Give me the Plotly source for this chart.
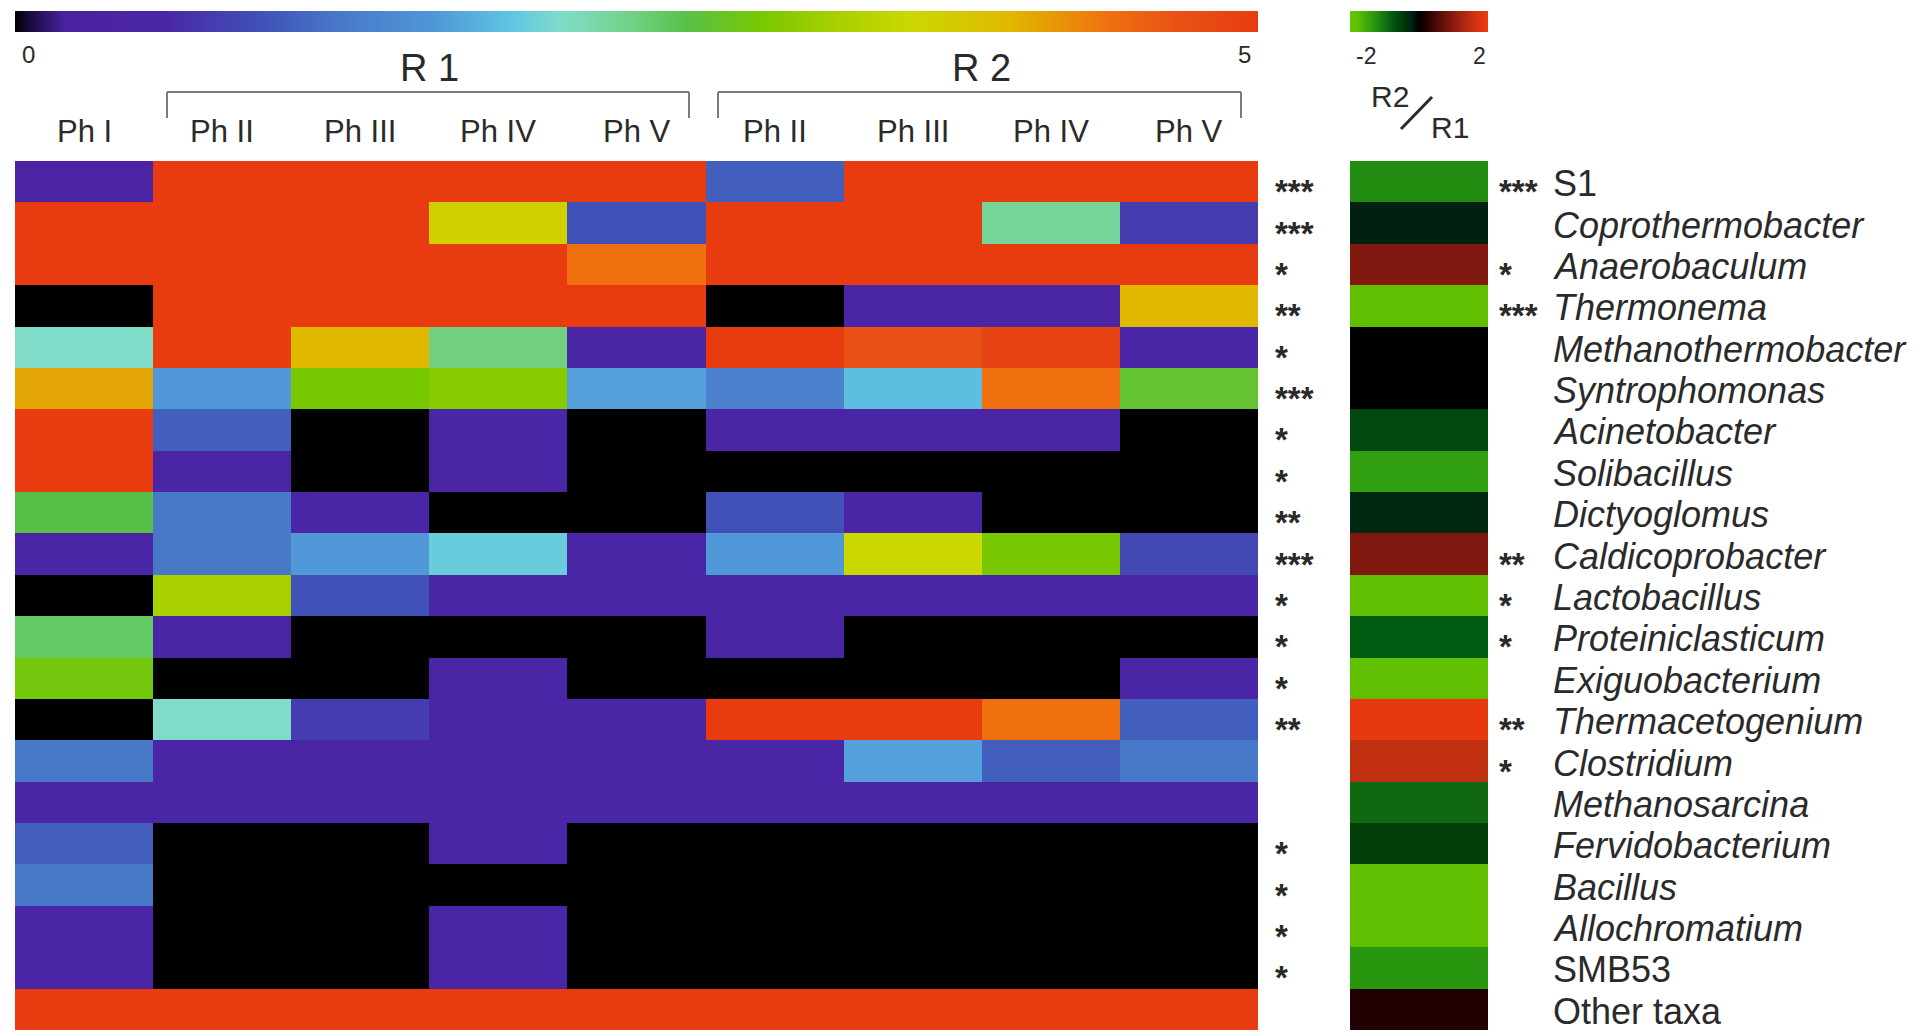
import plotly.graph_objects as go

W, H = 1927, 1032

taxa = ["S1", "Coprothermobacter", "Anaerobaculum", "Thermonema", "Methanothermobacter",
        "Syntrophomonas", "Acinetobacter", "Solibacillus", "Dictyoglomus", "Caldicoprobacter",
        "Lactobacillus", "Proteiniclasticum", "Exiguobacterium", "Thermacetogenium", "Clostridium",
        "Methanosarcina", "Fervidobacterium", "Bacillus", "Allochromatium", "SMB53", "Other taxa"]
italic_names = [False] + [True] * 18 + [False, False]

col_labels = ["Ph I", "Ph II", "Ph III", "Ph IV", "Ph V", "Ph II", "Ph III", "Ph IV", "Ph V"]
group_labels = ["R 1", "R 2"]

# relative abundance (0-5 scale), one list per column
ph1    = [0.4, 5, 5, 0, 2.2, 4.1, 5, 5, 2.7, 0.5, 0, 2.6, 2.95, 0, 1.3, 0.6, 1.1, 1.3, 0.5, 0.5, 5]
r1_ph2 = [5, 5, 5, 5, 5, 1.7, 1.1, 0.5, 1.3, 1.3, 3.3, 0.5, 0, 2.2, 0.5, 0.5, 0, 0, 0, 0, 5]
r1_ph3 = [5, 5, 5, 5, 4.0, 3.0, 0, 0, 0.5, 1.7, 1.0, 0, 0, 0.8, 0.5, 0.5, 0, 0, 0, 0, 5]
r1_ph4 = [5, 3.7, 5, 5, 2.5, 3.1, 0.5, 0.5, 0, 2.05, 0.5, 0, 0.5, 0.5, 0.5, 0.5, 0.5, 0, 0.5, 0.6, 5]
r1_ph5 = [5, 1.0, 4.4, 5, 0.5, 1.75, 0, 0, 0, 0.5, 0.5, 0, 0, 0.5, 0.5, 0.5, 0, 0, 0, 0, 5]
r2_ph2 = [1.1, 5, 5, 0, 5, 1.4, 0.5, 0, 1.0, 1.7, 0.5, 0.5, 0, 5, 0.5, 0.5, 0, 0, 0, 0, 5]
r2_ph3 = [5, 5, 5, 0.5, 4.7, 1.95, 0.5, 0, 0.5, 3.6, 0.5, 0, 0, 5, 1.75, 0.5, 0, 0, 0, 0, 5]
r2_ph4 = [5, 2.4, 5, 0.5, 4.9, 4.4, 0.5, 0, 0, 3.0, 0.5, 0, 0, 4.4, 1.1, 0.5, 0, 0, 0, 0, 5]
r2_ph5 = [5, 0.8, 5, 4.0, 0.5, 2.8, 0, 0, 0, 0.9, 0.5, 0, 0.5, 1.1, 1.3, 0.5, 0, 0, 0, 0, 5]

# log ratio R2/R1
ratio = [-1.2, -0.2, 0.9, -1.8, 0, 0, -0.6, -1.4, -0.3, 0.9, -1.8, -0.8, -1.8, 1.9, 1.5,
         -0.9, -0.5, -1.8, -1.8, -1.3, 0.2]

sig_abund = ["***", "***", "*", "**", "*", "***", "*", "*", "**", "***", "*", "*", "*", "**",
             "", "", "*", "*", "*", "*", ""]
sig_ratio = ["***", "", "*", "***", "", "", "", "", "", "**", "*", "*", "", "**", "*",
             "", "", "", "", "", ""]

columns = [ph1, r1_ph2, r1_ph3, r1_ph4, r1_ph5, r2_ph2, r2_ph3, r2_ph4, r2_ph5]
z_main = [[col[i] for col in columns] for i in range(len(taxa))]
z_ratio = [[v] for v in ratio]
rows = list(range(len(taxa)))

main_scale = [
    [0.0, "#000000"], [0.012, "#1a0a40"], [0.04, "#4a22a0"], [0.12, "#4a26a6"],
    [0.2, "#4052b8"], [0.26, "#4878c8"], [0.34, "#5098d8"], [0.4, "#60c6e2"],
    [0.44, "#80dcc8"], [0.5, "#70d080"], [0.54, "#58c048"], [0.6, "#78c800"],
    [0.66, "#a8d000"], [0.72, "#cad800"], [0.8, "#e0b800"], [0.88, "#f07010"],
    [0.94, "#e85016"], [1.0, "#e83c10"]]
ratio_scale = [
    [0.0, "#60c400"], [0.05, "#60c000"], [0.15, "#30a010"], [0.2, "#228c10"],
    [0.275, "#106810"], [0.3, "#005c10"], [0.35, "#004810"], [0.375, "#004008"],
    [0.425, "#002810"], [0.45, "#002010"], [0.5, "#000000"], [0.55, "#200000"],
    [0.725, "#801810"], [0.875, "#c03010"], [0.975, "#e83810"], [1.0, "#f03810"]]

def px(x):
    return x / W

def py(y):
    return 1 - y / H

MX0, MX1 = 15, 1258
RX0, RX1 = 1350, 1488
Y0, Y1 = 161, 1030
TXT = "#2a2a2a"
FONT = "Liberation Sans, Arial, sans-serif"

fig = go.Figure()
fig.add_trace(go.Heatmap(
    z=z_main, x=list(range(len(col_labels))), y=rows, colorscale=main_scale,
    zmin=0, zmax=5, xaxis="x", yaxis="y", hoverinfo="z",
    colorbar=dict(orientation="h", x=px((MX0 + MX1) / 2), xanchor="center",
                  y=py(11), yanchor="top", len=MX1 - MX0, lenmode="pixels",
                  thickness=21, thicknessmode="pixels", outlinewidth=0,
                  xpad=0, ypad=0, tickvals=[0, 5], showticklabels=False, ticks="")))
fig.add_trace(go.Heatmap(
    z=z_ratio, x=[0], y=rows, colorscale=ratio_scale, zmin=-2, zmax=2,
    xaxis="x2", yaxis="y2", hoverinfo="z",
    colorbar=dict(orientation="h", x=px((RX0 + RX1) / 2), xanchor="center",
                  y=py(11), yanchor="top", len=RX1 - RX0, lenmode="pixels",
                  thickness=21, thicknessmode="pixels", outlinewidth=0,
                  xpad=0, ypad=0, tickvals=[-2, 2], showticklabels=False, ticks="")))

ax_common = dict(showticklabels=False, showgrid=False, zeroline=False, ticks="",
                 showline=False, fixedrange=True)
yr = [len(taxa) - 0.5, -0.5]
fig.update_layout(
    width=W, height=H, margin=dict(l=0, r=0, t=0, b=0, autoexpand=False),
    paper_bgcolor="white", plot_bgcolor="white",
    xaxis=dict(domain=[px(MX0), px(MX1)], range=[-0.5, len(col_labels) - 0.5], **ax_common),
    yaxis=dict(domain=[py(Y1), py(Y0)], range=yr, **ax_common),
    xaxis2=dict(domain=[px(RX0), px(RX1)], range=[-0.5, 0.5], anchor="y2", **ax_common),
    yaxis2=dict(domain=[py(Y1), py(Y0)], range=yr, anchor="x2", **ax_common),
    font=dict(family=FONT, color=TXT),
)

annotations = []
shapes = []

def txt(x, y, text, size, xanchor="center", yanchor="middle", xref="paper", yref="paper",
        yshift=0):
    annotations.append(dict(x=x, y=y, xref=xref, yref=yref, text=text, showarrow=False,
                            xanchor=xanchor, yanchor=yanchor, yshift=yshift,
                            font=dict(size=size, family=FONT, color=TXT)))

# colorbar tick labels
txt(px(28), py(55), "0", 24)
txt(px(1244), py(55), "5", 24)
txt(px(1366), py(56), "-2", 23)
txt(px(1479), py(56), "2", 23)

# column labels
for i, lab in enumerate(col_labels):
    txt(i, py(131), lab, 31, xref="x")
# group headers and brackets
groups = [(1, 4, 167, 689), (5, 8, 718, 1241)]
for (c0, c1, bx0, bx1), g in zip(groups, group_labels):
    txt((c0 + c1) / 2, py(68), g, 38, xref="x")
    line = dict(color="#7a7a7a", width=2)
    shapes.append(dict(type="line", xref="paper", yref="paper", x0=px(bx0), x1=px(bx1),
                       y0=py(92), y1=py(92), line=line))
    shapes.append(dict(type="line", xref="paper", yref="paper", x0=px(bx0), x1=px(bx0),
                       y0=py(92), y1=py(118), line=line))
    shapes.append(dict(type="line", xref="paper", yref="paper", x0=px(bx1), x1=px(bx1),
                       y0=py(92), y1=py(118), line=line))

# R2/R1 label
txt(px(1390), py(97), "R2", 30)
txt(px(1450), py(127), "R1", 30)
shapes.append(dict(type="line", xref="paper", yref="paper", x0=px(1401), y0=py(129),
                   x1=px(1432), y1=py(97), line=dict(color=TXT, width=3)))

# stars and row labels
for i, t in enumerate(taxa):
    if sig_abund[i]:
        txt(px(1273), i, f"<b>{sig_abund[i]}</b>", 33, xanchor="left", yref="y", yshift=-10)
    if sig_ratio[i]:
        txt(px(1497), i, f"<b>{sig_ratio[i]}</b>", 33, xanchor="left", yref="y", yshift=-10)
    label = f"<i>{t}</i>" if italic_names[i] else t
    txt(px(1551), i, label, 36, xanchor="left", yref="y", yshift=-2)

fig.update_layout(annotations=annotations, shapes=shapes)

fig.write_html("out.html", config={"displayModeBar": False},
               post_script="document.body.style.margin='0';document.body.style.overflow='hidden';")
